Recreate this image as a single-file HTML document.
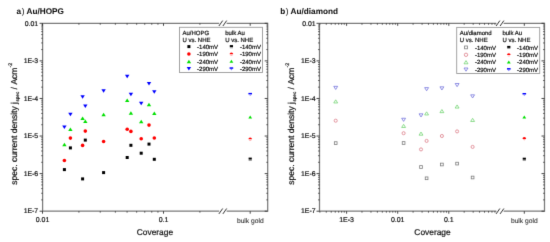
<!DOCTYPE html>
<html><head><meta charset="utf-8"><style>
html,body{margin:0;padding:0;background:#fff;width:550px;height:242px;overflow:hidden}
svg{display:block}
text{font-family:"Liberation Sans", sans-serif;fill:#111;stroke:#111;stroke-width:0.2px;text-rendering:geometricPrecision}
</style></head><body>
<svg width="550" height="242" viewBox="0 0 550 242">
<defs><filter id="b" x="0" y="0" width="1" height="1" color-interpolation-filters="sRGB"><feConvolveMatrix order="3" kernelMatrix="0 1 0 1 8 1 0 1 0" edgeMode="duplicate"/></filter></defs>
<rect width="550" height="242" fill="#fff"/>
<g filter="url(#b)">
<rect width="550" height="242" fill="#fff"/>
<path d="M42.6,23.3H219.2M226.6,23.3H267.7V211.2H226.6M219.2,211.2H42.6V23.3" fill="none" stroke="#7a7a7a" stroke-width="1.25"/>
<line x1="218.89999999999998" y1="26.0" x2="222.7" y2="20.6" stroke="#333" stroke-width="1.0"/>
<line x1="222.89999999999998" y1="26.0" x2="226.7" y2="20.6" stroke="#333" stroke-width="1.0"/>
<line x1="218.89999999999998" y1="213.89999999999998" x2="222.7" y2="208.5" stroke="#333" stroke-width="1.0"/>
<line x1="222.89999999999998" y1="213.89999999999998" x2="226.7" y2="208.5" stroke="#333" stroke-width="1.0"/>
<path d="M42.6,23.3h-3 M267.7,23.3h-3 M42.6,49.57h-1.3 M267.7,49.57h-1.3 M42.6,42.95h-1.3 M267.7,42.95h-1.3 M42.6,38.25h-1.3 M267.7,38.25h-1.3 M42.6,34.61h-1.3 M267.7,34.61h-1.3 M42.6,31.64h-1.3 M267.7,31.64h-1.3 M42.6,29.12h-1.3 M267.7,29.12h-1.3 M42.6,26.94h-1.3 M267.7,26.94h-1.3 M42.6,25.02h-1.3 M267.7,25.02h-1.3 M42.6,60.879999999999995h-3 M267.7,60.879999999999995h-3 M42.6,87.15h-1.3 M267.7,87.15h-1.3 M42.6,80.53h-1.3 M267.7,80.53h-1.3 M42.6,75.83h-1.3 M267.7,75.83h-1.3 M42.6,72.19h-1.3 M267.7,72.19h-1.3 M42.6,69.22h-1.3 M267.7,69.22h-1.3 M42.6,66.70h-1.3 M267.7,66.70h-1.3 M42.6,64.52h-1.3 M267.7,64.52h-1.3 M42.6,62.60h-1.3 M267.7,62.60h-1.3 M42.6,98.46h-3 M267.7,98.46h-3 M42.6,124.73h-1.3 M267.7,124.73h-1.3 M42.6,118.11h-1.3 M267.7,118.11h-1.3 M42.6,113.41h-1.3 M267.7,113.41h-1.3 M42.6,109.77h-1.3 M267.7,109.77h-1.3 M42.6,106.80h-1.3 M267.7,106.80h-1.3 M42.6,104.28h-1.3 M267.7,104.28h-1.3 M42.6,102.10h-1.3 M267.7,102.10h-1.3 M42.6,100.18h-1.3 M267.7,100.18h-1.3 M42.6,136.04h-3 M267.7,136.04h-3 M42.6,162.31h-1.3 M267.7,162.31h-1.3 M42.6,155.69h-1.3 M267.7,155.69h-1.3 M42.6,150.99h-1.3 M267.7,150.99h-1.3 M42.6,147.35h-1.3 M267.7,147.35h-1.3 M42.6,144.38h-1.3 M267.7,144.38h-1.3 M42.6,141.86h-1.3 M267.7,141.86h-1.3 M42.6,139.68h-1.3 M267.7,139.68h-1.3 M42.6,137.76h-1.3 M267.7,137.76h-1.3 M42.6,173.62h-3 M267.7,173.62h-3 M42.6,199.89h-1.3 M267.7,199.89h-1.3 M42.6,193.27h-1.3 M267.7,193.27h-1.3 M42.6,188.57h-1.3 M267.7,188.57h-1.3 M42.6,184.93h-1.3 M267.7,184.93h-1.3 M42.6,181.96h-1.3 M267.7,181.96h-1.3 M42.6,179.44h-1.3 M267.7,179.44h-1.3 M42.6,177.26h-1.3 M267.7,177.26h-1.3 M42.6,175.34h-1.3 M267.7,175.34h-1.3 M42.6,211.2h-3 M267.7,211.2h-3 M42.5,211.2v2.5 M42.5,23.3v2.5 M163.5,211.2v2.5 M163.5,23.3v2.5 M78.92,211.2v1.4 M78.92,23.3v1.4 M100.23,211.2v1.4 M100.23,23.3v1.4 M115.35,211.2v1.4 M115.35,23.3v1.4 M127.08,211.2v1.4 M127.08,23.3v1.4 M136.66,211.2v1.4 M136.66,23.3v1.4 M144.76,211.2v1.4 M144.76,23.3v1.4 M151.77,211.2v1.4 M151.77,23.3v1.4 M157.96,211.2v1.4 M157.96,23.3v1.4 M199.92,211.2v1.4 M199.92,23.3v1.4 M250.2,211.2v2.5 M250.2,23.3v2.5 " fill="none" stroke="#333" stroke-width="0.9"/>
<path d="M319.5,23.3H496.4M503.6,23.3H544.5V211.2H503.6M496.4,211.2H319.5V23.3" fill="none" stroke="#7a7a7a" stroke-width="1.25"/>
<line x1="496.09999999999997" y1="26.0" x2="499.9" y2="20.6" stroke="#333" stroke-width="1.0"/>
<line x1="500.09999999999997" y1="26.0" x2="503.9" y2="20.6" stroke="#333" stroke-width="1.0"/>
<line x1="496.09999999999997" y1="213.89999999999998" x2="499.9" y2="208.5" stroke="#333" stroke-width="1.0"/>
<line x1="500.09999999999997" y1="213.89999999999998" x2="503.9" y2="208.5" stroke="#333" stroke-width="1.0"/>
<path d="M319.5,23.3h-3 M544.5,23.3h-3 M319.5,49.57h-1.3 M544.5,49.57h-1.3 M319.5,42.95h-1.3 M544.5,42.95h-1.3 M319.5,38.25h-1.3 M544.5,38.25h-1.3 M319.5,34.61h-1.3 M544.5,34.61h-1.3 M319.5,31.64h-1.3 M544.5,31.64h-1.3 M319.5,29.12h-1.3 M544.5,29.12h-1.3 M319.5,26.94h-1.3 M544.5,26.94h-1.3 M319.5,25.02h-1.3 M544.5,25.02h-1.3 M319.5,60.879999999999995h-3 M544.5,60.879999999999995h-3 M319.5,87.15h-1.3 M544.5,87.15h-1.3 M319.5,80.53h-1.3 M544.5,80.53h-1.3 M319.5,75.83h-1.3 M544.5,75.83h-1.3 M319.5,72.19h-1.3 M544.5,72.19h-1.3 M319.5,69.22h-1.3 M544.5,69.22h-1.3 M319.5,66.70h-1.3 M544.5,66.70h-1.3 M319.5,64.52h-1.3 M544.5,64.52h-1.3 M319.5,62.60h-1.3 M544.5,62.60h-1.3 M319.5,98.46h-3 M544.5,98.46h-3 M319.5,124.73h-1.3 M544.5,124.73h-1.3 M319.5,118.11h-1.3 M544.5,118.11h-1.3 M319.5,113.41h-1.3 M544.5,113.41h-1.3 M319.5,109.77h-1.3 M544.5,109.77h-1.3 M319.5,106.80h-1.3 M544.5,106.80h-1.3 M319.5,104.28h-1.3 M544.5,104.28h-1.3 M319.5,102.10h-1.3 M544.5,102.10h-1.3 M319.5,100.18h-1.3 M544.5,100.18h-1.3 M319.5,136.04h-3 M544.5,136.04h-3 M319.5,162.31h-1.3 M544.5,162.31h-1.3 M319.5,155.69h-1.3 M544.5,155.69h-1.3 M319.5,150.99h-1.3 M544.5,150.99h-1.3 M319.5,147.35h-1.3 M544.5,147.35h-1.3 M319.5,144.38h-1.3 M544.5,144.38h-1.3 M319.5,141.86h-1.3 M544.5,141.86h-1.3 M319.5,139.68h-1.3 M544.5,139.68h-1.3 M319.5,137.76h-1.3 M544.5,137.76h-1.3 M319.5,173.62h-3 M544.5,173.62h-3 M319.5,199.89h-1.3 M544.5,199.89h-1.3 M319.5,193.27h-1.3 M544.5,193.27h-1.3 M319.5,188.57h-1.3 M544.5,188.57h-1.3 M319.5,184.93h-1.3 M544.5,184.93h-1.3 M319.5,181.96h-1.3 M544.5,181.96h-1.3 M319.5,179.44h-1.3 M544.5,179.44h-1.3 M319.5,177.26h-1.3 M544.5,177.26h-1.3 M319.5,175.34h-1.3 M544.5,175.34h-1.3 M319.5,211.2h-3 M544.5,211.2h-3 M346.6,211.2v2.5 M346.6,23.3v2.5 M397.70000000000005,211.2v2.5 M397.70000000000005,23.3v2.5 M448.8,211.2v2.5 M448.8,23.3v2.5 M319.88,211.2v1.4 M319.88,23.3v1.4 M326.27,211.2v1.4 M326.27,23.3v1.4 M331.22,211.2v1.4 M331.22,23.3v1.4 M335.26,211.2v1.4 M335.26,23.3v1.4 M338.68,211.2v1.4 M338.68,23.3v1.4 M341.65,211.2v1.4 M341.65,23.3v1.4 M344.26,211.2v1.4 M344.26,23.3v1.4 M361.98,211.2v1.4 M361.98,23.3v1.4 M370.98,211.2v1.4 M370.98,23.3v1.4 M377.37,211.2v1.4 M377.37,23.3v1.4 M382.32,211.2v1.4 M382.32,23.3v1.4 M386.36,211.2v1.4 M386.36,23.3v1.4 M389.78,211.2v1.4 M389.78,23.3v1.4 M392.75,211.2v1.4 M392.75,23.3v1.4 M395.36,211.2v1.4 M395.36,23.3v1.4 M413.08,211.2v1.4 M413.08,23.3v1.4 M422.08,211.2v1.4 M422.08,23.3v1.4 M428.47,211.2v1.4 M428.47,23.3v1.4 M433.42,211.2v1.4 M433.42,23.3v1.4 M437.46,211.2v1.4 M437.46,23.3v1.4 M440.88,211.2v1.4 M440.88,23.3v1.4 M443.85,211.2v1.4 M443.85,23.3v1.4 M446.46,211.2v1.4 M446.46,23.3v1.4 M464.18,211.2v1.4 M464.18,23.3v1.4 M473.18,211.2v1.4 M473.18,23.3v1.4 M479.57,211.2v1.4 M479.57,23.3v1.4 M484.52,211.2v1.4 M484.52,23.3v1.4 M488.56,211.2v1.4 M488.56,23.3v1.4 M491.98,211.2v1.4 M491.98,23.3v1.4 M494.95,211.2v1.4 M494.95,23.3v1.4 M524.3,211.2v2.5 M524.3,23.3v2.5 " fill="none" stroke="#333" stroke-width="0.9"/>
<path d="M62.20,125.54L66.60,125.54L64.40,129.06Z" fill="#0000ff"/>
<path d="M62.20,146.36L66.60,146.36L64.40,142.84Z" fill="#00e000"/>
<circle cx="64.4" cy="160.5" r="1.8" fill="#ff0000"/>
<rect x="62.90" y="168.10" width="3.0" height="3.0" fill="#000000"/>
<path d="M68.20,112.74L72.60,112.74L70.40,116.26Z" fill="#0000ff"/>
<path d="M68.20,130.96L72.60,130.96L70.40,127.44Z" fill="#00e000"/>
<circle cx="70.4" cy="138.1" r="1.8" fill="#ff0000"/>
<rect x="68.90" y="146.40" width="3.0" height="3.0" fill="#000000"/>
<path d="M80.40,95.24L84.80,95.24L82.60,98.76Z" fill="#0000ff"/>
<path d="M80.40,120.06L84.80,120.06L82.60,116.54Z" fill="#00e000"/>
<circle cx="82.6" cy="145.4" r="1.8" fill="#ff0000"/>
<rect x="81.10" y="177.40" width="3.0" height="3.0" fill="#000000"/>
<path d="M83.10,104.54L87.50,104.54L85.30,108.06Z" fill="#0000ff"/>
<path d="M83.10,122.96L87.50,122.96L85.30,119.44Z" fill="#00e000"/>
<circle cx="85.3" cy="131.1" r="1.8" fill="#ff0000"/>
<rect x="83.80" y="138.60" width="3.0" height="3.0" fill="#000000"/>
<path d="M101.40,89.24L105.80,89.24L103.60,92.76Z" fill="#0000ff"/>
<path d="M101.40,116.16L105.80,116.16L103.60,112.64Z" fill="#00e000"/>
<circle cx="103.6" cy="141.5" r="1.8" fill="#ff0000"/>
<rect x="102.10" y="171.10" width="3.0" height="3.0" fill="#000000"/>
<path d="M125.00,74.84L129.40,74.84L127.20,78.36Z" fill="#0000ff"/>
<path d="M125.00,102.06L129.40,102.06L127.20,98.54Z" fill="#00e000"/>
<circle cx="127.2" cy="129.3" r="1.8" fill="#ff0000"/>
<rect x="125.70" y="156.00" width="3.0" height="3.0" fill="#000000"/>
<path d="M128.70,92.64L133.10,92.64L130.90,96.16Z" fill="#0000ff"/>
<path d="M128.70,114.66L133.10,114.66L130.90,111.14Z" fill="#00e000"/>
<circle cx="130.9" cy="131.4" r="1.8" fill="#ff0000"/>
<rect x="129.40" y="143.80" width="3.0" height="3.0" fill="#000000"/>
<path d="M139.00,101.64L143.40,101.64L141.20,105.16Z" fill="#0000ff"/>
<path d="M139.00,123.26L143.40,123.26L141.20,119.74Z" fill="#00e000"/>
<circle cx="141.2" cy="138.8" r="1.8" fill="#ff0000"/>
<rect x="139.70" y="151.70" width="3.0" height="3.0" fill="#000000"/>
<path d="M146.80,81.94L151.20,81.94L149.00,85.46Z" fill="#0000ff"/>
<path d="M146.80,106.36L151.20,106.36L149.00,102.84Z" fill="#00e000"/>
<circle cx="149.0" cy="125.1" r="1.8" fill="#ff0000"/>
<rect x="147.50" y="142.60" width="3.0" height="3.0" fill="#000000"/>
<path d="M152.10,90.14L156.50,90.14L154.30,93.66Z" fill="#0000ff"/>
<path d="M152.10,114.96L156.50,114.96L154.30,111.44Z" fill="#00e000"/>
<circle cx="154.3" cy="138.0" r="1.8" fill="#ff0000"/>
<rect x="152.80" y="157.80" width="3.0" height="3.0" fill="#000000"/>
<rect x="248.40" y="92.90" width="3.6" height="1.5" fill="#0000ff"/>
<path d="M249.20,94.70H251.20L250.20,96.00Z" fill="#7a7aff"/>
<path d="M248.30,118.60H252.10L250.20,115.60Z" fill="#00e000"/>
<path d="M248.40,139.20A1.8,1.8 0 0 1 252.00,139.20Z" fill="#ff0000"/>
<path d="M248.90,139.90H251.50A1.5,1.2 0 0 1 248.90,139.90Z" fill="#ff7070"/>
<rect x="248.60" y="157.60" width="3.2" height="2.0" fill="#000000"/>
<rect x="248.60" y="160.00" width="3.2" height="0.7" fill="#777"/>
<path d="M333.75,86.34L337.65,86.34L335.70,89.46Z" fill="none" stroke="#7474dc" stroke-width="0.8"/>
<path d="M333.75,102.96L337.65,102.96L335.70,99.84Z" fill="none" stroke="#74d474" stroke-width="0.8"/>
<circle cx="335.7" cy="120.7" r="1.55" fill="none" stroke="#dc7c88" stroke-width="0.8"/>
<rect x="334.35" y="141.75" width="2.7" height="2.7" fill="none" stroke="#7c7c7c" stroke-width="0.8"/>
<path d="M401.65,118.24L405.55,118.24L403.60,121.36Z" fill="none" stroke="#7474dc" stroke-width="0.8"/>
<path d="M401.65,127.46L405.55,127.46L403.60,124.34Z" fill="none" stroke="#74d474" stroke-width="0.8"/>
<circle cx="403.6" cy="133.2" r="1.55" fill="none" stroke="#dc7c88" stroke-width="0.8"/>
<rect x="402.25" y="141.65" width="2.7" height="2.7" fill="none" stroke="#7c7c7c" stroke-width="0.8"/>
<path d="M419.05,113.84L422.95,113.84L421.00,116.96Z" fill="none" stroke="#7474dc" stroke-width="0.8"/>
<path d="M419.05,135.16L422.95,135.16L421.00,132.04Z" fill="none" stroke="#74d474" stroke-width="0.8"/>
<circle cx="421.0" cy="149.4" r="1.55" fill="none" stroke="#dc7c88" stroke-width="0.8"/>
<rect x="419.65" y="165.65" width="2.7" height="2.7" fill="none" stroke="#7c7c7c" stroke-width="0.8"/>
<path d="M424.65,87.64L428.55,87.64L426.60,90.76Z" fill="none" stroke="#7474dc" stroke-width="0.8"/>
<path d="M424.65,114.96L428.55,114.96L426.60,111.84Z" fill="none" stroke="#74d474" stroke-width="0.8"/>
<circle cx="426.6" cy="140.9" r="1.55" fill="none" stroke="#dc7c88" stroke-width="0.8"/>
<rect x="425.25" y="176.95" width="2.7" height="2.7" fill="none" stroke="#7c7c7c" stroke-width="0.8"/>
<path d="M439.95,86.84L443.85,86.84L441.90,89.96Z" fill="none" stroke="#7474dc" stroke-width="0.8"/>
<path d="M439.95,112.66L443.85,112.66L441.90,109.54Z" fill="none" stroke="#74d474" stroke-width="0.8"/>
<circle cx="441.9" cy="136.0" r="1.55" fill="none" stroke="#dc7c88" stroke-width="0.8"/>
<rect x="440.55" y="163.15" width="2.7" height="2.7" fill="none" stroke="#7c7c7c" stroke-width="0.8"/>
<path d="M455.15,83.54L459.05,83.54L457.10,86.66Z" fill="none" stroke="#7474dc" stroke-width="0.8"/>
<path d="M455.15,108.06L459.05,108.06L457.10,104.94Z" fill="none" stroke="#74d474" stroke-width="0.8"/>
<circle cx="457.1" cy="131.4" r="1.55" fill="none" stroke="#dc7c88" stroke-width="0.8"/>
<rect x="455.75" y="162.25" width="2.7" height="2.7" fill="none" stroke="#7c7c7c" stroke-width="0.8"/>
<path d="M470.65,94.84L474.55,94.84L472.60,97.96Z" fill="none" stroke="#7474dc" stroke-width="0.8"/>
<path d="M470.65,121.46L474.55,121.46L472.60,118.34Z" fill="none" stroke="#74d474" stroke-width="0.8"/>
<circle cx="472.6" cy="146.9" r="1.55" fill="none" stroke="#dc7c88" stroke-width="0.8"/>
<rect x="471.25" y="176.15" width="2.7" height="2.7" fill="none" stroke="#7c7c7c" stroke-width="0.8"/>
<rect x="522.50" y="93.00" width="3.6" height="1.5" fill="#0000ff"/>
<path d="M523.30,94.80H525.30L524.30,96.10Z" fill="#7a7aff"/>
<path d="M522.40,118.50H526.20L524.30,115.50Z" fill="#00e000"/>
<path d="M522.50,138.90A1.8,1.8 0 0 1 526.10,138.90Z" fill="#ff0000"/>
<path d="M523.00,139.60H525.60A1.5,1.2 0 0 1 523.00,139.60Z" fill="#ff7070"/>
<rect x="522.70" y="157.70" width="3.2" height="2.0" fill="#000000"/>
<rect x="522.70" y="160.10" width="3.2" height="0.7" fill="#777"/>
<rect x="179.5" y="27.3" width="83" height="45.2" fill="#fff" stroke="#9a9a9a" stroke-width="0.9"/>
<rect x="456.7" y="27.4" width="83" height="46.1" fill="#fff" stroke="#9a9a9a" stroke-width="0.9"/>
<rect x="187.40" y="45.10" width="3.0" height="3.0" fill="#000000"/>
<circle cx="188.9" cy="54.0" r="1.8" fill="#ff0000"/>
<path d="M186.70,63.16L191.10,63.16L188.90,59.64Z" fill="#00e000"/>
<path d="M186.70,67.04L191.10,67.04L188.90,70.56Z" fill="#0000ff"/>
<rect x="229.60" y="67.30" width="3.6" height="1.5" fill="#0000ff"/>
<path d="M230.40,69.10H232.40L231.40,70.40Z" fill="#7a7aff"/>
<path d="M229.50,62.70H233.30L231.40,59.70Z" fill="#00e000"/>
<path d="M229.60,54.20A1.8,1.8 0 0 1 233.20,54.20Z" fill="#ff0000"/>
<path d="M230.10,54.90H232.70A1.5,1.2 0 0 1 230.10,54.90Z" fill="#ff7070"/>
<rect x="229.80" y="45.10" width="3.2" height="2.0" fill="#000000"/>
<rect x="229.80" y="47.50" width="3.2" height="0.7" fill="#777"/>
<rect x="464.60" y="46.00" width="2.8" height="2.8" fill="none" stroke="#7c7c7c" stroke-width="0.8"/>
<circle cx="466.0" cy="54.8" r="1.7" fill="none" stroke="#dc7c88" stroke-width="0.8"/>
<path d="M464.00,63.80L468.00,63.80L466.00,60.60Z" fill="none" stroke="#74d474" stroke-width="0.8"/>
<path d="M464.00,68.00L468.00,68.00L466.00,71.20Z" fill="none" stroke="#7474dc" stroke-width="0.8"/>
<rect x="507.00" y="68.10" width="3.6" height="1.5" fill="#0000ff"/>
<path d="M507.80,69.90H509.80L508.80,71.20Z" fill="#7a7aff"/>
<path d="M506.90,63.50H510.70L508.80,60.50Z" fill="#00e000"/>
<path d="M507.00,55.00A1.8,1.8 0 0 1 510.60,55.00Z" fill="#ff0000"/>
<path d="M507.50,55.70H510.10A1.5,1.2 0 0 1 507.50,55.70Z" fill="#ff7070"/>
<rect x="507.20" y="45.90" width="3.2" height="2.0" fill="#000000"/>
<rect x="507.20" y="48.30" width="3.2" height="0.7" fill="#777"/>
<text x="38.2" y="25.5" font-size="6.9" text-anchor="end" font-weight="normal" >0.01</text>
<text x="315.6" y="25.5" font-size="6.9" text-anchor="end" font-weight="normal" >0.01</text>
<text x="38.2" y="63.08" font-size="6.9" text-anchor="end" font-weight="normal" >1E-3</text>
<text x="315.6" y="63.08" font-size="6.9" text-anchor="end" font-weight="normal" >1E-3</text>
<text x="38.2" y="100.66" font-size="6.9" text-anchor="end" font-weight="normal" >1E-4</text>
<text x="315.6" y="100.66" font-size="6.9" text-anchor="end" font-weight="normal" >1E-4</text>
<text x="38.2" y="138.23999999999998" font-size="6.9" text-anchor="end" font-weight="normal" >1E-5</text>
<text x="315.6" y="138.23999999999998" font-size="6.9" text-anchor="end" font-weight="normal" >1E-5</text>
<text x="38.2" y="175.82" font-size="6.9" text-anchor="end" font-weight="normal" >1E-6</text>
<text x="315.6" y="175.82" font-size="6.9" text-anchor="end" font-weight="normal" >1E-6</text>
<text x="38.2" y="213.39999999999998" font-size="6.9" text-anchor="end" font-weight="normal" >1E-7</text>
<text x="315.6" y="213.39999999999998" font-size="6.9" text-anchor="end" font-weight="normal" >1E-7</text>
<text x="42.5" y="221.7" font-size="7.0" text-anchor="middle" font-weight="normal" >0.01</text>
<text x="163.5" y="221.7" font-size="7.0" text-anchor="middle" font-weight="normal" >0.1</text>
<text x="250.3" y="222.6" font-size="6.7" text-anchor="middle" font-weight="normal" style="fill:#333;stroke:#333;stroke-width:0.1px">bulk gold</text>
<text x="346.6" y="221.7" font-size="7.0" text-anchor="middle" font-weight="normal" >1E-3</text>
<text x="397.70000000000005" y="221.7" font-size="7.0" text-anchor="middle" font-weight="normal" >0.01</text>
<text x="448.8" y="221.7" font-size="7.0" text-anchor="middle" font-weight="normal" >0.1</text>
<text x="524.3" y="222.6" font-size="6.7" text-anchor="middle" font-weight="normal" style="fill:#333;stroke:#333;stroke-width:0.1px">bulk gold</text>
<text x="154.9" y="234.7" font-size="8.4" text-anchor="middle" font-weight="normal" >Coverage</text>
<text x="432.5" y="234.7" font-size="8.4" text-anchor="middle" font-weight="normal" >Coverage</text>
<text x="16.6" y="14.1" font-size="8.2" font-weight="bold" style="stroke-width:0.05px">a<tspan font-weight="normal" dx="0.5">)</tspan><tspan dx="0.2"> Au/HOPG</tspan></text>
<text x="280.2" y="14.1" font-size="8.2" font-weight="bold" style="stroke-width:0.05px">b<tspan font-weight="normal" dx="0.5">)</tspan><tspan dx="0.2"> Au/diamond</tspan></text>
<text transform="translate(16.5,184.8) rotate(-90)" font-size="8.5">spec. current density j<tspan x="83.3" font-size="4.6" dy="2.4">spec</tspan><tspan x="95.4" dy="-2.4">/</tspan><tspan x="100.2">Acm</tspan><tspan x="117.4" font-size="5.2" dy="-5">-2</tspan></text>
<text transform="translate(294.0,184.8) rotate(-90)" font-size="8.5">spec. current density j<tspan x="83.3" font-size="4.6" dy="2.4">spec</tspan><tspan x="95.4" dy="-2.4">/</tspan><tspan x="100.2">Acm</tspan><tspan x="117.4" font-size="5.2" dy="-5">-2</tspan></text>
<text x="182.5" y="34.6" font-size="6" text-anchor="start" font-weight="normal" >Au/HOPG</text>
<text x="182.5" y="41.9" font-size="6" text-anchor="start" font-weight="normal" >U vs. NHE</text>
<text x="225.2" y="34.6" font-size="6" text-anchor="start" font-weight="normal" >bulk Au</text>
<text x="225.2" y="41.9" font-size="6" text-anchor="start" font-weight="normal" >U vs. NHE</text>
<text x="197.1" y="49.2" font-size="6" text-anchor="start" font-weight="normal" >-140mV</text>
<text x="239.9" y="49.2" font-size="6" text-anchor="start" font-weight="normal" >-140mV</text>
<text x="197.1" y="56.4" font-size="6" text-anchor="start" font-weight="normal" >-190mV</text>
<text x="239.9" y="56.4" font-size="6" text-anchor="start" font-weight="normal" >-190mV</text>
<text x="197.1" y="63.7" font-size="6" text-anchor="start" font-weight="normal" >-240mV</text>
<text x="239.9" y="63.7" font-size="6" text-anchor="start" font-weight="normal" >-240mV</text>
<text x="197.1" y="70.8" font-size="6" text-anchor="start" font-weight="normal" >-290mV</text>
<text x="239.9" y="70.8" font-size="6" text-anchor="start" font-weight="normal" >-290mV</text>
<text x="459.7" y="35.0" font-size="6" text-anchor="start" font-weight="normal" >Au/diamond</text>
<text x="459.7" y="42.3" font-size="6" text-anchor="start" font-weight="normal" >U vs. NHE</text>
<text x="502.4" y="35.0" font-size="6" text-anchor="start" font-weight="normal" >bulk Au</text>
<text x="502.4" y="42.3" font-size="6" text-anchor="start" font-weight="normal" >U vs. NHE</text>
<text x="474.90000000000003" y="49.6" font-size="6" text-anchor="start" font-weight="normal" >-140mV</text>
<text x="517.1" y="49.6" font-size="6" text-anchor="start" font-weight="normal" >-140mV</text>
<text x="474.90000000000003" y="56.9" font-size="6" text-anchor="start" font-weight="normal" >-190mV</text>
<text x="517.1" y="56.9" font-size="6" text-anchor="start" font-weight="normal" >-190mV</text>
<text x="474.90000000000003" y="64.2" font-size="6" text-anchor="start" font-weight="normal" >-240mV</text>
<text x="517.1" y="64.2" font-size="6" text-anchor="start" font-weight="normal" >-240mV</text>
<text x="474.90000000000003" y="71.5" font-size="6" text-anchor="start" font-weight="normal" >-290mV</text>
<text x="517.1" y="71.5" font-size="6" text-anchor="start" font-weight="normal" >-290mV</text>
</g>
</svg>
</body></html>
